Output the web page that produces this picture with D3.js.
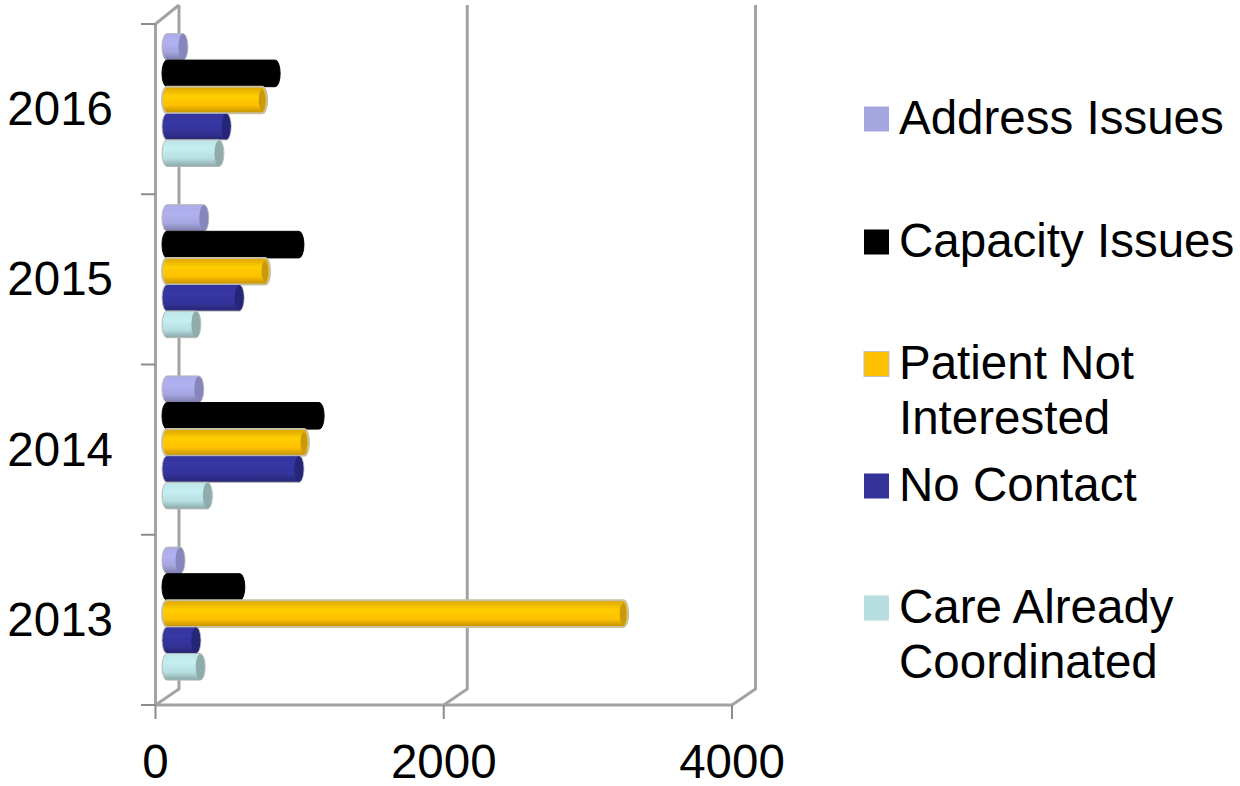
<!doctype html>
<html lang="en">

<head>
    <meta charset="UTF-8" />
    <title>Referral outcomes by year</title>
    <script src="https://d3js.org/d3.v7.min.js"></script>
    <style>
        body {
            margin: 0;
            background: #ffffff;
        }

        svg {
            display: block;
        }

        text {
            font-family: "Liberation Sans", Arial, sans-serif;
            fill: #000000;
        }

        .wall {
            fill: none;
            stroke: #a3a3a3;
            stroke-width: 3px;
        }

        .tick-mark {
            stroke: #8c8c8c;
            stroke-width: 2px;
        }
    </style>
</head>

<body>
    <svg id="chart" width="1240" height="786"></svg>
    <script>
        const years = ["2016", "2015", "2014", "2013"];
        const seriesNames = ["Address Issues", "Capacity Issues", "Patient Not Interested", "No Contact", "Care Already Coordinated"];
        const addressIssues = [145, 290, 255, 125];
        const capacityIssues = [785, 950, 1090, 540];
        const patientNotInterested = [695, 715, 985, 3200];
        const noContact = [445, 535, 950, 235];
        const careCoordinated = [395, 235, 315, 265];
        const xTicks = [0, 2000, 4000];

        const seriesValues = [addressIssues, capacityIssues, patientNotInterested, noContact, careCoordinated];
        const baseColors = ["#a5a5e0", "#000000", "#ffc000", "#333399", "#b7dee0"];
        const capColors = ["#8686bd", "#050505", "#c89a10", "#252578", "#8fabab"];
        const legendLines = [["Address Issues"], ["Capacity Issues"], ["Patient Not", "Interested"], ["No Contact"], ["Care Already", "Coordinated"]];
        const legendY = [134, 257, 379, 501, 623];

        const svg = d3.select("#chart");
        const defs = svg.append("defs");

        const floorY = 705;
        const x = d3.scaleLinear().domain([0, 4000]).range([155.5, 732]);
        const y = d3.scaleBand().domain(years).range([24, floorY]);
        // bars drift a little from the axis ticks in the 3d projection
        const yBars = d3.scaleBand().domain(years).range([22.5, 707.3]);
        const inner = d3.scaleBand().domain(seriesNames).range([11, 144]);

        // 3d offset of the back wall
        const depthX = 23.5;
        const depthY = 16;
        const barShift = 6.5;
        const capR = 5;

        // walls
        const wallPath = d3.path();
        xTicks.forEach((t) => {
            wallPath.moveTo(x(t), floorY);
            wallPath.lineTo(x(t) + depthX, floorY - depthY);
            wallPath.lineTo(x(t) + depthX, 5);
        });
        wallPath.moveTo(x(0), 24);
        wallPath.lineTo(x(0) + depthX, 5);
        svg.append("path").attr("class", "wall").attr("d", wallPath.toString());

        svg.append("line").attr("class", "wall").attr("x1", x(0)).attr("x2", 732).attr("y1", floorY).attr("y2", floorY);
        svg.append("line").attr("class", "wall").attr("x1", x(0)).attr("x2", x(0)).attr("y1", 24).attr("y2", floorY);

        // axis ticks
        svg.selectAll(".x-tick").data(xTicks).enter().append("line")
            .attr("class", "tick-mark")
            .attr("x1", (d) => x(d)).attr("x2", (d) => x(d))
            .attr("y1", floorY).attr("y2", 719);

        const yEdges = years.map((d) => y(d)).concat([y.range()[1]]);
        svg.selectAll(".y-tick").data(yEdges).enter().append("line")
            .attr("class", "tick-mark")
            .attr("x1", 141).attr("x2", x(0))
            .attr("y1", (d) => d).attr("y2", (d) => d);

        svg.selectAll(".x-label").data(xTicks).enter().append("text")
            .attr("x", (d) => x(d))
            .attr("y", 778)
            .attr("text-anchor", "middle")
            .attr("font-size", 47.5)
            .text((d) => d);

        svg.selectAll(".y-label").data(years).enter().append("text")
            .attr("x", 113)
            .attr("y", (d) => y(d) + y.bandwidth() / 2 + 16)
            .attr("text-anchor", "end")
            .attr("font-size", 47.5)
            .text((d) => d);

        // slight softness like the reference bars
        defs.append("filter").attr("id", "soft")
            .append("feGaussianBlur").attr("stdDeviation", 0.5);

        // gradients, one per series
        baseColors.forEach((c, i) => {
            const grad = defs.append("linearGradient")
                .attr("id", `bar-grad-${i}`)
                .attr("x1", 0).attr("x2", 0).attr("y1", 0).attr("y2", 1);
            const base = d3.color(c);
            grad.append("stop").attr("offset", "0%").attr("stop-color", i === 2 ? "#dca500" : base.brighter(0.1));
            grad.append("stop").attr("offset", "35%").attr("stop-color", i === 1 ? "#000000" : base.brighter(0.2));
            grad.append("stop").attr("offset", "70%").attr("stop-color", base);
            grad.append("stop").attr("offset", "100%").attr("stop-color", base.darker(0.8));
        });

        function cylinderPath(x0, x1, top, bottom) {
            const ry = (bottom - top) / 2;
            return `M${x0},${top} L${x1},${top} A${capR},${ry} 0 0 1 ${x1},${bottom} L${x0},${bottom} A${capR},${ry} 0 0 1 ${x0},${top} Z`;
        }

        seriesNames.forEach((name, i) => {
            const g = svg.append("g").attr("class", "series").attr("filter", "url(#soft)");
            const rows = years.map((yr, k) => ({ yr: yr, value: seriesValues[i][k] }));

            g.selectAll("path").data(rows).enter().append("path")
                .attr("d", (d) => {
                    const top = yBars(d.yr) + inner(name);
                    return cylinderPath(x(0) + barShift + capR, x(d.value) + barShift, top, top + inner.bandwidth());
                })
                .attr("fill", `url(#bar-grad-${i})`)
                .attr("stroke", i === 1 ? "#000000" : i === 2 ? "#c8c0a0" : "#b8b8b8")
                .attr("stroke-width", i === 2 ? 2 : 1);

            // end cap of the cylinder
            g.selectAll("ellipse").data(rows).enter().append("ellipse")
                .attr("cx", (d) => x(d.value) + barShift)
                .attr("cy", (d) => yBars(d.yr) + inner(name) + inner.bandwidth() / 2)
                .attr("rx", i === 2 ? 3.5 : capR - 0.5)
                .attr("ry", inner.bandwidth() / 2 - (i === 2 ? 3 : 0.5))
                .attr("fill", capColors[i]);
        });

        // legend
        const legend = svg.selectAll(".legend").data(seriesNames).enter().append("g").attr("class", "legend");

        legend.append("rect")
            .attr("x", 864)
            .attr("y", (d, i) => legendY[i] - 27.5)
            .attr("width", 25)
            .attr("height", 25)
            .attr("fill", (d, i) => baseColors[i])
            .attr("stroke", (d, i) => (i === 2 ? "#c0c0c0" : "none"));

        legend.each(function (d, i) {
            d3.select(this).selectAll("text").data(legendLines[i]).enter().append("text")
                .attr("x", 899)
                .attr("y", (line, k) => legendY[i] + k * 55)
                .attr("font-size", 47.5)
                .text((line) => line);
        });
    </script>
</body>

</html>
